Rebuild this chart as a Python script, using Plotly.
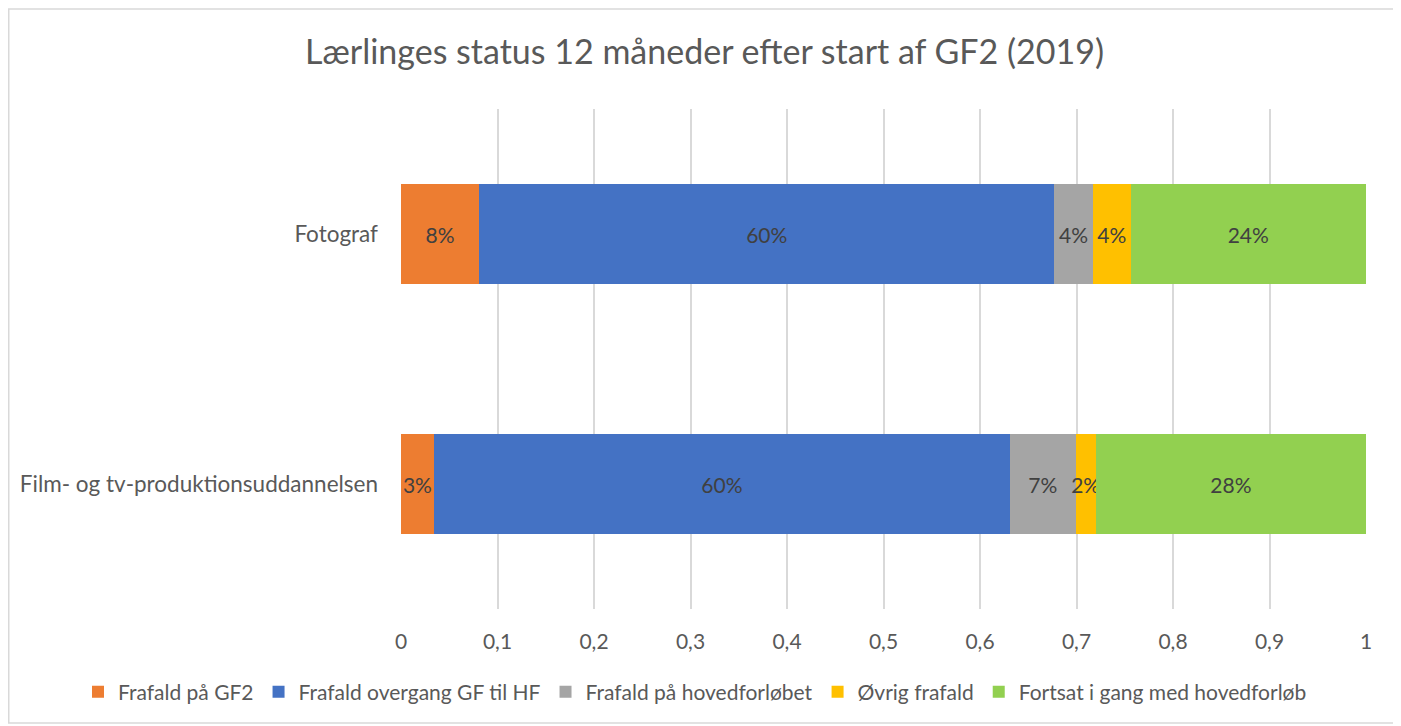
import plotly.graph_objects as go

categories = ["Film- og tv-produktionsuddannelsen", "Fotograf"]
series_names = [
    "Frafald på GF2",
    "Frafald overgang GF til HF",
    "Frafald på hovedforløbet",
    "Øvrig frafald",
    "Fortsat i gang med hovedforløb",
]
frafald_gf2 = [0.034, 0.081]
frafald_overgang = [0.597, 0.596]
frafald_hovedforlob = [0.068, 0.040]
ovrig_frafald = [0.021, 0.039]
fortsat = [0.280, 0.244]
x_ticks = [0, 0.1, 0.2, 0.3, 0.4, 0.5, 0.6, 0.7, 0.8, 0.9, 1]

series_values = [frafald_gf2, frafald_overgang, frafald_hovedforlob, ovrig_frafald, fortsat]
colors = ["#ED7D31", "#4472C4", "#A5A5A5", "#FFC000", "#92D050"]

FONT = "Lato"
W, H = 1393, 718           # page has 8px body margin
PL, PR, PT, PB = 393, 1358, 101, 601   # plot area in figure px
pw, ph = PR - PL, PB - PT


def px_x(fx):
    return (fx - PL) / pw


def px_y(fy):
    return (PB - fy) / ph


fig = go.Figure()
for name, vals, col in zip(series_names, series_values, colors):
    fig.add_trace(go.Bar(
        y=categories, x=vals, name=name, orientation="h",
        marker=dict(color=col, line=dict(width=0)),
        texttemplate="%{x:.0%}", textposition="inside", textangle=0,
        insidetextanchor="middle", constraintext="none",
        textfont=dict(color="#404040", size=21, family=FONT),
    ))

fig.update_layout(
    width=W, height=H,
    barmode="stack", bargap=0.6,
    separators=",.",
    paper_bgcolor="white", plot_bgcolor="white",
    margin=dict(l=PL, r=W - PR, t=PT, b=H - PB),
    font=dict(family=FONT, color="#595959", size=21),
    uniformtext=dict(minsize=21, mode="show"),
    title=dict(text="Lærlinges status 12 måneder efter start af GF2 (2019)",
               x=0.5, xref="container", xanchor="center",
               y=1 - 44 / H, yref="container", yanchor="middle",
               font=dict(size=34, color="#595959", family=FONT)),
    legend=dict(orientation="h", x=px_x(70), xanchor="left",
                y=px_y(684), yanchor="middle",
                font=dict(size=21, color="#595959", family=FONT),
                traceorder="normal", itemwidth=30),
    xaxis=dict(range=[0, 1], tickvals=x_ticks, showgrid=True,
               gridcolor="#d9d9d9", gridwidth=1.5, zeroline=False,
               showline=False, ticks="", tickfont=dict(size=21),
               ticklabelstandoff=18),
    yaxis=dict(showgrid=False, zeroline=False, showline=False, ticks="",
               tickfont=dict(size=22.5), ticklabelstandoff=22),
    shapes=[dict(type="rect", xref="paper", yref="paper",
                 x0=px_x(0.75), x1=px_x(1391),
                 y0=px_y(715), y1=px_y(1),
                 line=dict(color="#d9d9d9", width=1.5), fillcolor="rgba(0,0,0,0)",
                 layer="below")],
)

fig.write_html("out.html")
